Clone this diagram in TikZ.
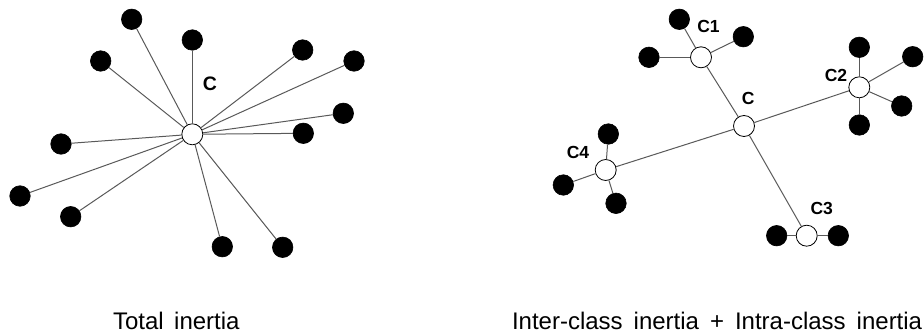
\documentclass[tikz,border=0pt]{standalone}
\usepackage{fontspec}
\setmainfont{Liberation Sans}
\begin{document}
\begin{tikzpicture}[x=1pt,y=-1pt,
  dot/.style={circle,fill=black,draw=black,line width=0.6pt,minimum size=20.5pt,inner sep=0pt},
  ctr/.style={circle,fill=white,draw=black,line width=0.8pt,minimum size=21pt,inner sep=0pt},
  edge/.style={draw=black!65,line width=1pt},
  lbl/.style={font=\fontsize{17.5}{20}\selectfont\bfseries,inner sep=0pt},
  captxt/.style={font=\fontsize{24}{28}\selectfont,inner sep=0pt,anchor=base west}]
\useasboundingbox (0,0) rectangle (924,334);
% ---------- left: total inertia ----------
\node[ctr] (L) at (192.3,134.3) {};
\node[dot] (l1) at (131.7,19.3) {};
\node[dot] (l2) at (192.3,40) {};
\node[dot] (l3) at (100.7,61) {};
\node[dot] (l4) at (302.7,50) {};
\node[dot] (l5) at (354,61) {};
\node[dot] (l6) at (343.3,113.3) {};
\node[dot] (l7) at (303.3,133.3) {};
\node[dot] (l8) at (61,144) {};
\node[dot] (l9) at (20,196) {};
\node[dot] (l10) at (70.7,216.7) {};
\node[dot] (l11) at (222.3,246.7) {};
\node[dot] (l12) at (282.7,247.3) {};
\node[lbl,font=\fontsize{19.5}{22}\selectfont\bfseries] (lc) at (210,84.2) {C};
\foreach \i in {1,...,12} \draw[edge] (l\i) -- (L);
% ---------- right: inter + intra ----------
\node[ctr] (R) at (744,126) {};
\node[ctr] (C1) at (701,57.3) {};
\node[ctr] (C2) at (859.3,87.3) {};
\node[ctr] (C3) at (806.7,235.7) {};
\node[ctr] (C4) at (605.7,170) {};
\node[dot] (a1) at (679.3,19.3) {};
\node[dot] (a2) at (743.3,36.7) {};
\node[dot] (a3) at (649,57.3) {};
\node[dot] (b1) at (859.3,47.3) {};
\node[dot] (b2) at (912.7,56.7) {};
\node[dot] (b3) at (901.7,106) {};
\node[dot] (b4) at (859.3,125) {};
\node[dot] (d1) at (776.7,235.7) {};
\node[dot] (d2) at (838.3,235.7) {};
\node[dot] (e1) at (608.3,134) {};
\node[dot] (e2) at (563.3,185) {};
\node[dot] (e3) at (616,203.3) {};
\node[lbl] (tc) at (748.2,98.3) {C};
\node[lbl] (t1) at (708.5,26.7) {C1};
\node[lbl] (t2) at (836,75) {C2};
\node[lbl] (t3) at (821.7,208.3) {C3};
\node[lbl] (t4) at (578,152.5) {C4};
\draw[edge] (R) -- (C1);
\draw[edge] (R) -- (C2);
\draw[edge] (R) -- (C3);
\draw[edge] (R) -- (C4);
\foreach \i in {1,2,3} \draw[edge] (a\i) -- (C1);
\foreach \i in {1,...,4} \draw[edge] (b\i) -- (C2);
\foreach \i in {1,2} \draw[edge] (d\i) -- (C3);
\foreach \i in {1,2,3} \draw[edge] (e\i) -- (C4);
% ---------- captions ----------
\node[captxt] (cap1) at (112.8,329) {Total\hspace{10.5pt}inertia};
\node[captxt] (cap2) at (511.8,329) {Inter-class\hspace{11pt}inertia\hspace{11pt}+\hspace{11pt}Intra-class\hspace{11pt}inertia};
\end{tikzpicture}
\end{document}
